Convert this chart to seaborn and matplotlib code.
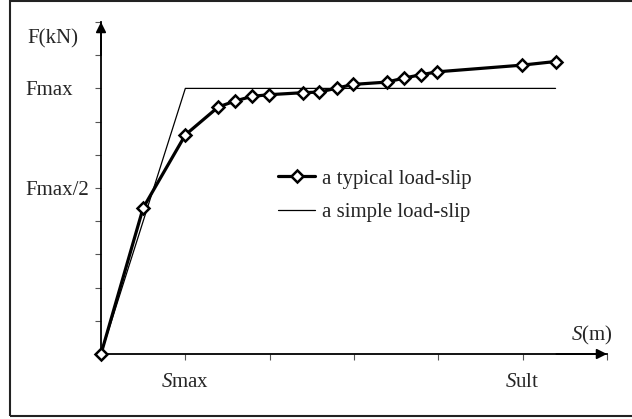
import matplotlib
matplotlib.use("Agg")
import matplotlib.pyplot as plt
import seaborn as sns
import pandas as pd
from matplotlib.patches import Rectangle

# typical load-slip curve (x in units of Smax, y in tick steps)
typical_slip = [0.0, 0.5, 1.0, 1.39, 1.59, 1.79, 1.99, 2.39, 2.59, 2.80, 2.99,
                3.39, 3.59, 3.79, 3.99, 4.99, 5.39]
typical_load = [0.0, 4.40, 6.60, 7.44, 7.62, 7.76, 7.81, 7.87, 7.89, 8.01, 8.12,
                8.19, 8.31, 8.41, 8.50, 8.70, 8.81]

# simple (bilinear) load-slip
simple_slip = [0.0, 1.0, 5.39]
simple_load = [0.0, 8.0, 8.0]

x_ticks = [0, 1, 2, 3, 4, 5, 6]
x_tick_labels = ["", r"$\mathit{S}$max", "", "", "", r"$\mathit{S}$ult", ""]
y_ticks = [0, 1, 2, 3, 4, 5, 6, 7, 8, 9, 10]
y_tick_labels = ["", "", "", "", "", "Fmax/2", "", "", "Fmax", "", ""]

sns.set_theme(style="ticks")
plt.rcParams["font.family"] = ["Liberation Serif", "DejaVu Serif"]
plt.rcParams["mathtext.fontset"] = "custom"
plt.rcParams["mathtext.rm"] = "Liberation Serif"
plt.rcParams["mathtext.it"] = "Liberation Serif:italic"

W, H = 632, 419
fig = plt.figure(figsize=(W / 100, H / 100), dpi=100)
ax = fig.add_axes([101 / W, 65 / H, 506 / W, 332 / H])

typ = pd.DataFrame({"slip": typical_slip, "load": typical_load})
simp = pd.DataFrame({"slip": simple_slip, "load": simple_load})

sns.lineplot(data=simp, x="slip", y="load", sort=False, color="black",
             linewidth=0.9, ax=ax, label="a simple load-slip", clip_on=False)
sns.lineplot(data=typ, x="slip", y="load", sort=False, color="black",
             linewidth=2.3, marker="D", markersize=6.5, markerfacecolor="white",
             markeredgecolor="black", markeredgewidth=1.8, ax=ax,
             label="a typical load-slip", clip_on=False, zorder=5)

ax.set_xlim(0, 6)
ax.set_ylim(0, 10)
sns.despine(ax=ax)
for s in ["left", "bottom"]:
    ax.spines[s].set_linewidth(1.3)
    ax.spines[s].set_color("black")

ax.set_xticks(x_ticks)
ax.set_xticklabels(x_tick_labels, fontsize=15)
ax.set_yticks(y_ticks)
ax.set_yticklabels(y_tick_labels, fontsize=15, ha="left")
ax.tick_params(axis="x", direction="out", length=4.5, width=0.8, color="#555555", pad=9)
ax.tick_params(axis="y", direction="out", length=4.5, width=0.8, color="#555555", pad=50)

# arrows at the axis ends
arrow = dict(arrowstyle="-|>", color="black", lw=1.3, mutation_scale=15,
             shrinkA=0, shrinkB=0)
ax.annotate("", xy=(1, 0), xytext=(0.9, 0), xycoords="axes fraction", arrowprops=arrow)
ax.annotate("", xy=(0, 1), xytext=(0, 0.9), xycoords="axes fraction", arrowprops=arrow)

ax.set_xlabel(r"$\mathit{S}$(m)", fontsize=15, ha="right", va="center")
ax.xaxis.set_label_coords(1.012, 0.057)
ax.set_ylabel("F(kN)", fontsize=15, rotation=0, ha="left", va="center")
ax.yaxis.set_label_coords(-0.146, 0.949)

handles, labels = ax.get_legend_handles_labels()
ax.legend(handles[::-1], labels[::-1], loc="center left", bbox_to_anchor=(0.33, 0.477),
          frameon=False, fontsize=15, borderpad=0, handlelength=1.75,
          handletextpad=0.33, labelspacing=0.66)

fig.patches.append(Rectangle((10.5 / W, 3 / H), 640 / W, 415 / H,
                             transform=fig.transFigure, fill=False,
                             edgecolor="#222222", linewidth=1.5))

fig.savefig("out.png", dpi=100)
